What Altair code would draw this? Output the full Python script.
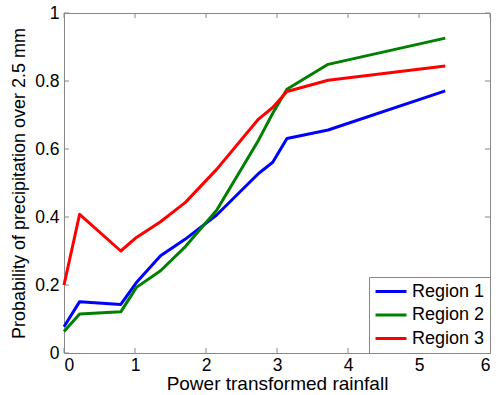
import altair as alt
import pandas as pd

x_vals = [0.0, 0.22, 0.80, 1.02, 1.36, 1.71, 2.15, 2.74, 2.94, 3.14, 3.72, 5.37]
region1 = [0.077, 0.151, 0.143, 0.207, 0.286, 0.335, 0.406, 0.528, 0.561, 0.631, 0.656, 0.771]
region2 = [0.063, 0.115, 0.121, 0.193, 0.242, 0.313, 0.420, 0.626, 0.705, 0.776, 0.849, 0.926]
region3 = [0.200, 0.408, 0.300, 0.340, 0.386, 0.443, 0.540, 0.688, 0.722, 0.769, 0.802, 0.844]
series_names = ["Region 1", "Region 2", "Region 3"]
series_colors = ["#0000ff", "#008000", "#ff0000"]
x_ticks = [0, 1, 2, 3, 4, 5, 6]
y_ticks = [0, 0.2, 0.4, 0.6, 0.8, 1.0]

rows = []
for name, vals in zip(series_names, [region1, region2, region3]):
    for i, (xv, yv) in enumerate(zip(x_vals, vals)):
        rows.append({"x": xv, "y": yv, "series": name, "order": i})
df = pd.DataFrame(rows)

W, H = 426, 340
FONT = "Liberation Sans"
GRAY = "#888888"

xscale = alt.Scale(domain=[0, 6], nice=False)
yscale = alt.Scale(domain=[0, 1], nice=False)
xaxis = alt.Axis(title="Power transformed rainfall", values=x_ticks, format="~g",
                 grid=False, ticks=False, domain=False, labelPadding=3, titlePadding=1,
                 titleFontSize=19)
yaxis = alt.Axis(title="Probability of precipitation over 2.5 mm", values=y_ticks,
                 format="~g", grid=False, ticks=False, domain=False,
                 labelPadding=5, titlePadding=6, titleFontSize=18)

lines = alt.Chart(df).mark_line(strokeWidth=3, strokeJoin="round").encode(
    x=alt.X("x:Q", scale=xscale, axis=xaxis),
    y=alt.Y("y:Q", scale=yscale, axis=yaxis),
    color=alt.Color("series:N",
                    scale=alt.Scale(domain=series_names, range=series_colors),
                    legend=alt.Legend(title=None, orient="bottom-right", offset=0,
                                      strokeColor=GRAY, fillColor="white", padding=5,
                                      symbolType="stroke", symbolSize=961,
                                      symbolStrokeWidth=3, labelFontSize=18,
                                      labelFont=FONT, labelColor="black",
                                      rowPadding=4.5, clipHeight=19, labelOffset=4,
                                      cornerRadius=0)),
    order="order:Q",
)

xt = pd.DataFrame({"x": x_ticks})
yt = pd.DataFrame({"y": y_ticks})

tick_bottom = alt.Chart(xt).mark_rule(color=GRAY, strokeWidth=1).encode(
    x=alt.X("x:Q", scale=xscale, axis=xaxis), y=alt.value(H), y2=alt.value(H - 5))
tick_top = alt.Chart(xt).mark_rule(color=GRAY, strokeWidth=1).encode(
    x=alt.X("x:Q", scale=xscale, axis=xaxis), y=alt.value(0), y2=alt.value(5))
tick_left = alt.Chart(yt).mark_rule(color=GRAY, strokeWidth=1).encode(
    y=alt.Y("y:Q", scale=yscale, axis=yaxis), x=alt.value(0), x2=alt.value(5))
tick_right = alt.Chart(yt).mark_rule(color=GRAY, strokeWidth=1).encode(
    y=alt.Y("y:Q", scale=yscale, axis=yaxis), x=alt.value(W - 5), x2=alt.value(W))

chart = alt.layer(tick_bottom, tick_top, tick_left, tick_right, lines).properties(
    width=W, height=H,
    autosize=alt.AutoSizeParams(type="none"),
    padding={"left": 64, "top": 13, "right": 8, "bottom": 42},
    background="white",
).configure_view(stroke=GRAY, strokeWidth=1).configure_axis(
    labelFont=FONT, titleFont=FONT, labelFontSize=17.5,
    labelColor="black", titleColor="black", titleFontWeight="normal",
)

chart.save("out.html", embed_options={"renderer": "svg", "actions": False})
